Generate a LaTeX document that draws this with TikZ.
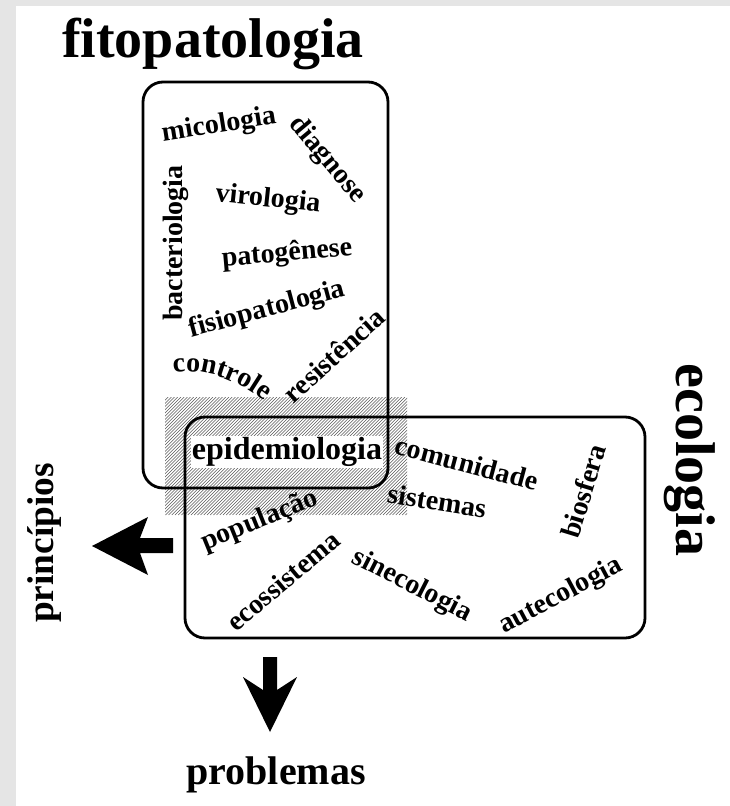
\documentclass[tikz,border=0pt]{standalone}
\usepackage{fontspec}
\setmainfont{Liberation Serif}
\usetikzlibrary{decorations.text}
\begin{document}
\begin{tikzpicture}[x=0.75pt,y=-0.75pt,
  w/.style={font=\fontsize{21}{21}\selectfont\bfseries, inner sep=0pt},
  big/.style={font=\fontsize{42}{42}\selectfont\bfseries, inner sep=0pt},
  frame/.style={draw=black, line width=2.1pt, rounded corners=15pt},
  hatchline/.style={draw=black!65, line width=0.4pt},
  arrowshape/.style={fill=black}]
\useasboundingbox (0,0) rectangle (730,806);
\fill[gray!20] (0,0) rectangle (730,806);
\fill[white] (16,6) rectangle (730,806);

% hatched overlap zone
\begin{scope}
  \clip (165,397) rectangle (407,515);
  \foreach \i in {0,3.2,...,370} {
    \draw[hatchline] (47+\i,515) -- ++(118,-118);
  }
\end{scope}

% frames
\draw[frame] (143,82) rectangle (388,488);
\draw[frame] (185,417) rectangle (645,638);

% titles
\node[big] (fito) at (213,44) {fitopatologia};
\node[big, rotate=-90] (eco) at (690,460) {ecologia};
\node[font=\fontsize{28}{28}\selectfont\bfseries, inner sep=0pt, rotate=90] (princ) at (45,543) {princípios};
\node[font=\fontsize{30}{30}\selectfont\bfseries, inner sep=0pt] (prob) at (276,775) {problemas};

% fitopatologia words
\node[w, rotate=9] (mico) at (219,126) {micologia};
\node[w, rotate=-50] (diag) at (327,160) {diagnose};
\node[w, rotate=90] (bact) at (176,243) {bacteriologia};
\node[w, rotate=-6] (viro) at (268,200) {virologia};
\node[w, rotate=5] (pato) at (287,254) {patogênese};
\node[w, rotate=15] (fisio) at (267,310) {fisiopatologia};
\node[w, rotate=42] (resi) at (334,355) {resistência};
\path[decorate, decoration={text along path, text align=center,
  text={|\fontsize{21}{21}\selectfont\bfseries|controle}}]
  (166,374) .. controls (196,366) and (236,376) .. (270,406);

% overlap
\node[font=\fontsize{24}{24}\selectfont\bfseries, inner sep=1pt, fill=white] (epi) at (287,452) {epidemiologia};

% ecologia words
\node[w, rotate=-15] (comu) at (467,463) {comunidade};
\node[w, rotate=-9] (sist) at (437,501) {sistemas};
\node[w, rotate=73] (bios) at (583,491) {biosfera};
\node[w, rotate=22] (popu) at (260,521) {população};
\node[w, rotate=40] (ecos) at (283,581) {ecossistema};
\node[w, rotate=-27] (sine) at (412,586) {sinecologia};
\node[w, rotate=28] (aute) at (561,596) {autecologia};

% arrows
\coordinate (lt) at (92,546);
\coordinate (dt) at (270,732);
\fill[arrowshape] (173,538) -- (140,538) -- (148,517) -- (lt) -- (148,575) -- (140,553) -- (173,553) -- cycle;
\fill[arrowshape] (263,657) -- (277,657) -- (277,690) -- (297,677) -- (dt) -- (243,677) -- (263,690) -- cycle;
\end{tikzpicture}
\end{document}
